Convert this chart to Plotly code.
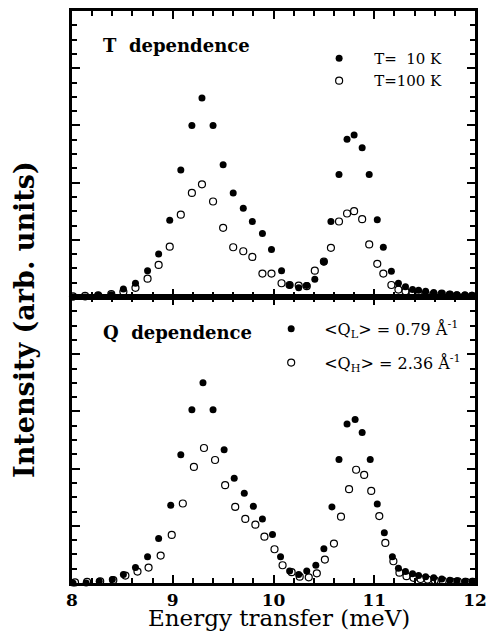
import plotly.graph_objects as go

# ---------------- data ----------------
# Top panel: T dependence
E_T10 = [8.01, 8.13, 8.26, 8.39, 8.51, 8.63, 8.75, 8.86, 8.97, 9.08,
         9.19, 9.29, 9.40, 9.50, 9.60, 9.70, 9.79, 9.89, 9.98, 10.08,
         10.16, 10.25, 10.33, 10.41, 10.50, 10.57, 10.65, 10.73, 10.80, 10.88,
         10.95, 11.03, 11.09, 11.17, 11.24, 11.31, 11.38, 11.44, 11.51, 11.59,
         11.67, 11.75, 11.82, 11.90, 11.97]
I_T10 = [0.0, 0.0, 0.03, 0.04, 0.14, 0.24, 0.46, 0.75, 1.34, 2.22,
         3.00, 3.48, 3.00, 2.31, 1.82, 1.55, 1.32, 1.11, 0.83, 0.46,
         0.21, 0.16, 0.20, 0.31, 0.61, 1.32, 2.14, 2.76, 2.83, 2.61,
         2.14, 1.35, 0.87, 0.45, 0.24, 0.18, 0.13, 0.12, 0.10, 0.08,
         0.06, 0.05, 0.04, 0.04, 0.03]
E_T100 = E_T10
I_T100 = [0.01, 0.02, 0.03, 0.05, 0.09, 0.16, 0.32, 0.56, 0.88, 1.44,
          1.82, 1.97, 1.67, 1.21, 0.87, 0.80, 0.70, 0.41, 0.41, 0.24,
          0.21, 0.20, 0.19, 0.46, 0.62, 0.86, 1.32, 1.46, 1.50, 1.36,
          0.92, 0.58, 0.41, 0.21, 0.13, 0.10, 0.08, 0.07, 0.06, 0.05,
          0.06, 0.04, 0.03, 0.02, 0.02]

# Bottom panel: Q dependence
E_QL = [8.01, 8.14, 8.27, 8.40, 8.51, 8.63, 8.75, 8.86, 8.98, 9.08,
        9.19, 9.30, 9.40, 9.51, 9.61, 9.71, 9.80, 9.89, 9.99, 10.07,
        10.16, 10.25, 10.33, 10.42, 10.50, 10.58, 10.65, 10.73, 10.81, 10.88,
        10.96, 11.03, 11.10, 11.18, 11.24, 11.31, 11.38, 11.44, 11.51, 11.59,
        11.67, 11.75, 11.82, 11.90, 11.97]
I_QL = [0.0, 0.0, 0.03, 0.06, 0.15, 0.27, 0.46, 0.78, 1.36, 2.24,
        3.03, 3.50, 3.03, 2.33, 1.83, 1.57, 1.34, 1.12, 0.85, 0.46,
        0.21, 0.15, 0.21, 0.31, 0.60, 1.33, 2.16, 2.78, 2.86, 2.63,
        2.16, 1.38, 0.88, 0.46, 0.26, 0.20, 0.16, 0.13, 0.11, 0.09,
        0.07, 0.05, 0.04, 0.03, 0.03]
E_QH = [8.03, 8.15, 8.28, 8.41, 8.53, 8.65, 8.76, 8.88, 8.99, 9.10,
        9.21, 9.31, 9.42, 9.52, 9.62, 9.72, 9.82, 9.91, 10.01, 10.09,
        10.18, 10.26, 10.35, 10.43, 10.51, 10.60, 10.67, 10.75, 10.82, 10.90,
        10.97, 11.05, 11.11, 11.19, 11.25, 11.32, 11.39, 11.46, 11.53, 11.60,
        11.68, 11.76, 11.83, 11.91, 11.98]
I_QH = [0.01, 0.02, 0.03, 0.05, 0.13, 0.20, 0.27, 0.48, 0.84, 1.39,
        2.03, 2.36, 2.15, 1.71, 1.33, 1.12, 1.02, 0.81, 0.59, 0.31,
        0.19, 0.11, 0.10, 0.17, 0.41, 0.69, 1.16, 1.64, 1.98, 1.89,
        1.61, 1.17, 0.70, 0.38, 0.18, 0.12, 0.09, 0.07, 0.06, 0.05,
        0.04, 0.03, 0.03, 0.02, 0.02]

X_TICKS = [8, 9, 10, 11, 12]
X_TICK_LABELS = ["8", "9", "10", "11", "12"]

LABEL_T10 = "T=\u00a0\u00a010 K"
LABEL_T100 = "T=100 K"
LABEL_QL = "&lt;Q<sub>L</sub>&gt; = 0.79 Å<sup>-1</sup>"
LABEL_QH = "&lt;Q<sub>H</sub>&gt; = 2.36 Å<sup>-1</sup>"

SERIF = "DejaVu Serif"

# ---------------- figure ----------------
fig = go.Figure()

filled = dict(symbol="circle", size=7, color="black")
opened = dict(symbol="circle-open", size=7, color="black", line=dict(width=1.2, color="black"))

fig.add_trace(go.Scatter(x=E_T10, y=I_T10, mode="markers", marker=filled, name=LABEL_T10,
                         xaxis="x", yaxis="y", cliponaxis=False, legend="legend", legendgroup="a"))
fig.add_trace(go.Scatter(x=E_T100, y=I_T100, mode="markers", marker=opened, name=LABEL_T100,
                         xaxis="x", yaxis="y", cliponaxis=False, legend="legend", legendgroup="a"))
fig.add_trace(go.Scatter(x=E_QL, y=I_QL, mode="markers", marker=filled, name=LABEL_QL,
                         xaxis="x2", yaxis="y2", cliponaxis=False, legend="legend2", legendgroup="b"))
fig.add_trace(go.Scatter(x=E_QH, y=I_QH, mode="markers", marker=opened, name=LABEL_QH,
                         xaxis="x2", yaxis="y2", cliponaxis=False, legend="legend2", legendgroup="c"))

axis_common = dict(
    showline=True, linewidth=2.5, linecolor="black", mirror="ticks",
    ticks="inside", ticklen=8, tickwidth=2, tickcolor="black",
    showgrid=False, zeroline=False,
)
xminor = dict(dtick=0.2, ticks="inside", ticklen=5, tickwidth=1.5, tickcolor="black", showgrid=False)
yminor = dict(dtick=0.25, ticks="inside", ticklen=5, tickwidth=1.5, tickcolor="black", showgrid=False)

fig.update_layout(
    width=495, height=641,
    margin=dict(l=72, r=15, t=8, b=58),
    paper_bgcolor="white", plot_bgcolor="white",
    font=dict(family=SERIF, color="black"),
    showlegend=True,
    xaxis=dict(domain=[0, 1], anchor="y", range=[8, 12], tickvals=X_TICKS, showticklabels=False,
               minor=xminor, **axis_common),
    yaxis=dict(domain=[0.5, 1], anchor="x", range=[0, 5], dtick=1, showticklabels=False,
               minor=yminor, **axis_common),
    xaxis2=dict(domain=[0, 1], anchor="y2", range=[8, 12], tickvals=X_TICKS, ticktext=X_TICK_LABELS,
                tickfont=dict(family=SERIF, size=17, color="black", weight="bold"),
                minor=xminor, **axis_common),
    yaxis2=dict(domain=[0, 0.5], anchor="x2", range=[0, 5], dtick=1, showticklabels=False,
                minor=yminor, **axis_common),
    legend=dict(x=0.576, y=0.946, xanchor="left", yanchor="top", bgcolor="rgba(0,0,0,0)",
                font=dict(family=SERIF, size=15, color="black"), itemwidth=60,
                tracegroupgap=0, traceorder="normal"),
    legend2=dict(x=0.462, y=0.474, xanchor="left", yanchor="top", bgcolor="rgba(0,0,0,0)",
                 font=dict(family=SERIF, size=16, color="black"), itemwidth=56,
                 tracegroupgap=10, traceorder="grouped"),
    annotations=[
        dict(text="T\u00a0\u00a0dependence", xref="paper", yref="paper", x=(101 - 72) / 408,
             y=(583 - 43) / 575, xanchor="left", yanchor="middle", showarrow=False,
             font=dict(family=SERIF, size=18, color="black", weight="bold")),
        dict(text="Q\u00a0\u00a0dependence", xref="paper", yref="paper", x=(101 - 72) / 408,
             y=(583 - 331) / 575, xanchor="left", yanchor="middle", showarrow=False,
             font=dict(family=SERIF, size=18, color="black", weight="bold")),
        dict(text="Energy transfer (meV)", xref="paper", yref="paper", x=(282 - 72) / 408,
             y=(583 - 618) / 575, xanchor="center", yanchor="middle", showarrow=False,
             font=dict(family=SERIF, size=23, color="black")),
        dict(text="Intensity (arb. units)", xref="paper", yref="paper", x=(24 - 72) / 408,
             y=(583 - 318) / 575, xanchor="center", yanchor="middle", showarrow=False,
             textangle=-90, font=dict(family=SERIF, size=27, color="black", weight="bold")),
    ],
)

fig.write_html("out.html", config={"displayModeBar": False},
               post_script="document.body.style.margin='0';document.body.style.overflow='hidden';")
